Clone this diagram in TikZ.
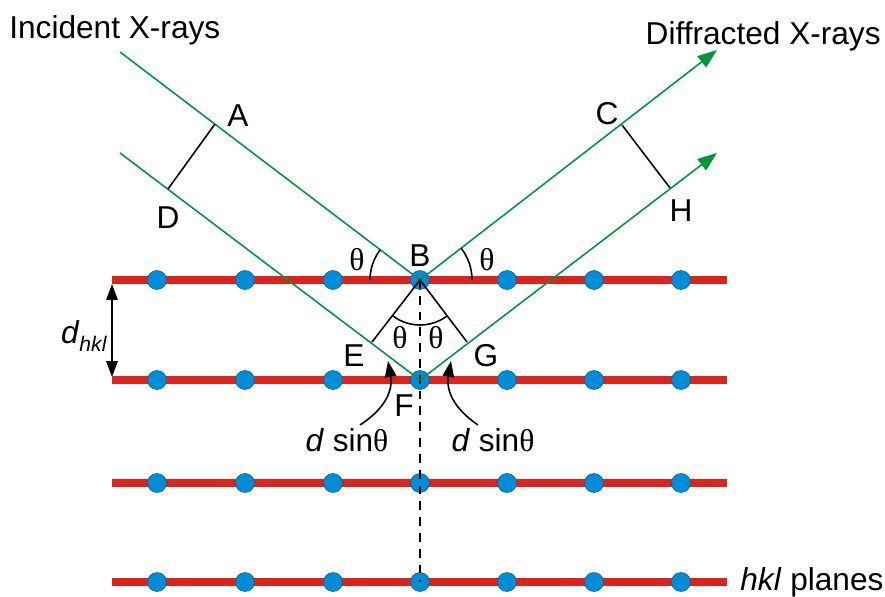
\documentclass[tikz,border=0pt]{standalone}
\usepackage{fontspec}
\setmainfont{Liberation Sans}
\newfontfamily\thf{Liberation Serif}
\usetikzlibrary{arrows.meta}
\definecolor{ray}{RGB}{0,150,60}
\definecolor{plane}{RGB}{220,35,30}
\definecolor{atom}{RGB}{0,140,215}
\newcommand{\thet}{{\thf θ}}
\begin{document}
\begin{tikzpicture}[x=0.02cm,y=-0.02cm,
  lab/.style={font=\fontsize{18}{21}\selectfont, inner sep=0pt},
  raystyle/.style={draw=ray, line width=0.9pt},
  outray/.style={raystyle, -{Triangle[length=11pt,width=8pt]}},
  planeline/.style={draw=plane, line width=4pt},
  atomdot/.style={circle, fill=atom, draw=atom!70!black, line width=0.3pt, minimum size=0.38cm, inner sep=0pt},
  thin/.style={draw=black, line width=0.9pt},
  smalltip/.style={-{Triangle[length=9pt,width=6.5pt]}}]
\useasboundingbox (0,0) rectangle (885,597);
% planes
\foreach \y/\n in {280/1,380/2,483/3,582/4}{
  \coordinate (L\n) at (112,\y);
  \coordinate (R\n) at (727,\y);
  \draw[planeline] (L\n) -- (R\n);
}
% atoms
\foreach \y/\n in {280/1,380/2,483/3,582/4}{
  \foreach \x/\m in {157/a,245/b,333/c,420/d,507/e,594/f,681/g}{
    \node[atomdot] (at\n\m) at (\x,\y) {};
  }
}
% key points
\coordinate (B) at (420,280);
\coordinate (F) at (420,380);
\coordinate (I1) at (120,52);
\coordinate (I2) at (120,153);
\coordinate (O1) at (717,50);
\coordinate (O2) at (717,153);
\coordinate (A) at (215,124);
\coordinate (D) at (168,189);
\coordinate (C) at (622,125);
\coordinate (H) at (670,188);
\coordinate (E) at (372,342);
\coordinate (G) at (467,342);
\coordinate (Bot) at (420,582);
% dashed normal
\draw[thin, line width=0.8pt, dash pattern=on 5pt off 4pt] (B) -- (Bot);
% rays
\draw[raystyle] (I1) -- (B);
\draw[raystyle] (I2) -- (F);
\draw[outray] (B) -- (O1);
\draw[outray] (F) -- (O2);
% perpendiculars
\draw[thin] (A) -- (D);
\draw[thin] (C) -- (H);
\draw[thin] (E) -- (B) -- (G);
% angle arcs
\draw[thin] ([shift={(180:50)}]B) arc[start angle=180, end angle=217.2, radius=50];
\draw[thin] ([shift={(0:52)}]B) arc[start angle=0, end angle=-37.8, radius=52];
\draw[thin] ([shift={(127.7:45)}]B) arc[start angle=127.7, end angle=52.8, radius=45];
% d_hkl arrow
\coordinate (dT) at (112,284);
\coordinate (dB) at (112,377);
\draw[thin, {Triangle[length=9pt,width=6.5pt]}-{Triangle[length=9pt,width=6.5pt]}] (dT) -- (dB);
\node[lab] (dhkl) at (84,336) {\textit{d}\raisebox{-0.5ex}{\fontsize{12}{14}\selectfont\textit{hkl}}};
% d sin theta arrows
\coordinate (s1) at (360,425);
\coordinate (s2) at (478,425);
\coordinate (e1) at (388,361);
\coordinate (e2) at (451,361);
\draw[thin, smalltip] (s1) .. controls (386,408) and (393,390) .. (e1);
\draw[thin, smalltip] (s2) .. controls (453,408) and (446,390) .. (e2);
% labels
\node[lab, anchor=west] (tin) at (9,30) {Incident X-rays};
\node[lab, anchor=east] (tout) at (881,36) {Diffracted X-rays};
\node[lab] (lA) at (238,116) {A};
\node[lab] (lD) at (168,218) {D};
\node[lab] (lC) at (607,114) {C};
\node[lab] (lH) at (681,211) {H};
\node[lab] (lB) at (420,256) {B};
\node[lab] (lE) at (354,356) {E};
\node[lab] (lG) at (486,356) {G};
\node[lab] (lF) at (404,406) {F};
\node[lab] (t1) at (357,260) {\thet};
\node[lab] (t2) at (487,260) {\thet};
\node[lab] (t3) at (400,338) {\thet};
\node[lab] (t4) at (436,338) {\thet};
\node[lab] (ds1) at (347,440) {\textit{d} sin\thet};
\node[lab] (ds2) at (493,440) {\textit{d} sin\thet};
\node[lab, anchor=west] (hkl) at (740,582) {\textit{hkl} planes};
\end{tikzpicture}
\end{document}
